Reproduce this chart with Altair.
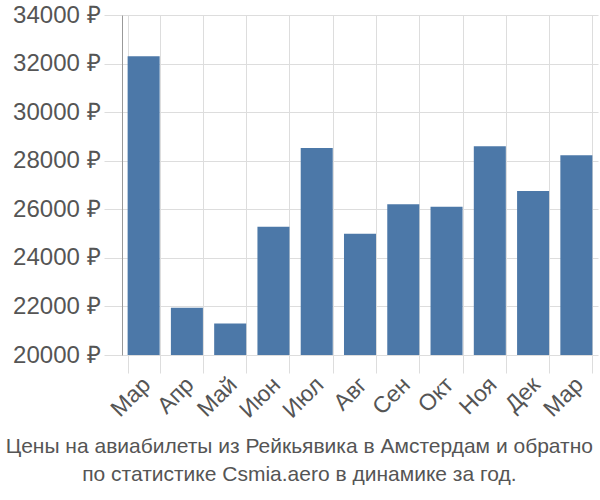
import altair as alt
import pandas as pd

months = ["Мар", "Апр", "Май", "Июн", "Июл", "Авг", "Сен", "Окт", "Ноя", "Дек", "Мар"]
prices = [32300, 21950, 21300, 25280, 28520, 24990, 26210, 26100, 28600, 26750, 28230]
y_ticks = [20000, 22000, 24000, 26000, 28000, 30000, 32000, 34000]
title_lines = ["Цены на авиабилеты из Рейкьявика в Амстердам и обратно",
               "по статистике Csmia.aero в динамике за год."]

df = pd.DataFrame({"idx": list(range(len(months))), "month": months, "price": prices})
label_arr = "[" + ",".join("'" + m + "'" for m in months) + "]"

font = "Liberation Sans"
chart = alt.Chart(df).mark_bar(color="#4c78a8", clip=True).encode(
    x=alt.X("idx:O", title=None,
            scale=alt.Scale(paddingInner=0.26, paddingOuter=0.13),
            axis=alt.Axis(labelExpr=label_arr + "[datum.value]", labelAngle=315,
                          labelAlign="right", labelBaseline="top",
                          labelFontSize=23, labelColor="#555", labelFont=font,
                          tickSize=18, tickColor="#ddd", tickBand="extent",
                          domain=False, grid=True, gridColor="#ddd",
                          bandPosition=0, labelPadding=0, labelOffset=-5)),
    y=alt.Y("price:Q", title=None,
            scale=alt.Scale(domain=[20000, 34000], nice=False, zero=False),
            axis=alt.Axis(values=y_ticks, labelExpr="datum.value + ' ₽'",
                          labelFontSize=24, labelColor="#555", labelFont=font,
                          tickSize=18, tickColor="#ddd", domainColor="#999",
                          gridColor="#ddd", labelPadding=4)),
).properties(
    width=476, height=340,
    autosize=alt.AutoSizeParams(type="none"),
    padding={"left": 122, "top": 15, "right": 2, "bottom": 145},
    title=alt.TitleParams(text=title_lines, orient="bottom", anchor="middle",
                          frame="bounds", fontSize=21, font=font,
                          fontWeight="normal", color="#555", lineHeight=28,
                          offset=14, dx=-6),
).configure_view(stroke=None)

chart.save("out.html", embed_options={"renderer": "svg", "actions": False})
